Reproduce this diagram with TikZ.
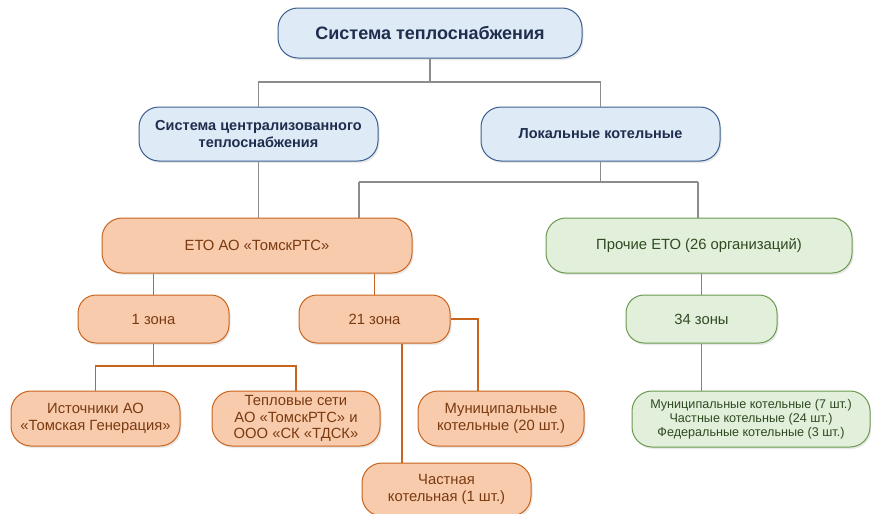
\documentclass[tikz,border=0pt]{standalone}
\usepackage{fontspec}
\setmainfont{Liberation Sans}
\usetikzlibrary{shadows}
\definecolor{bfill}{HTML}{DEEAF6}
\definecolor{bdraw}{HTML}{3A5F8F}
\definecolor{btext}{HTML}{1F2D4E}
\definecolor{gline}{HTML}{8C8C8C}
\definecolor{ofill}{HTML}{F8CBAD}
\definecolor{odraw}{HTML}{C8641E}
\definecolor{otext}{HTML}{7A3A10}
\definecolor{gfill}{HTML}{E2EFDA}
\definecolor{gdraw}{HTML}{6A9A50}
\definecolor{gtext}{HTML}{2F4A22}
\tikzset{
  box/.style={rounded corners=20pt, line width=1pt, align=center, inner sep=2pt,
    drop shadow={shadow xshift=1.5pt, shadow yshift=-2pt, opacity=0.25, fill=black!35}},
  bluebox/.style={box, fill=bfill, draw=bdraw, text=btext, font=\bfseries\fontsize{14.5}{17}\selectfont},
  orbox/.style={box, fill=ofill, draw=odraw, text=otext, font=\fontsize{14.8}{16.5}\selectfont},
  grbox/.style={box, fill=gfill, draw=gdraw, text=gtext, font=\fontsize{14.8}{16.5}\selectfont},
  gcon/.style={draw=gline, line width=1.3pt},
  ocon/.style={draw=odraw, line width=1.5pt},
  grcon/.style={draw=gdraw, line width=1.5pt},
}
\begin{document}
\begin{tikzpicture}[x=1pt,y=-1pt]
\useasboundingbox (0,0) rectangle (871,514);
% nodes
\node[bluebox, minimum width=304pt, minimum height=50pt, font=\bfseries\fontsize{18}{21}\selectfont] (top) at (430,33) {Система теплоснабжения};
\node[bluebox, minimum width=239pt, minimum height=54pt] (cent) at (258.5,134) {Система централизованного\\теплоснабжения};
\node[bluebox, minimum width=239pt, minimum height=54pt] (loc) at (600.5,134) {Локальные котельные};
\node[orbox, minimum width=310pt, minimum height=55pt] (eto) at (257,245.5) {ЕТО АО «ТомскРТС»};
\node[grbox, minimum width=306pt, minimum height=55pt] (proch) at (699,245.5) {Прочие ЕТО (26 организаций)};
\node[orbox, minimum width=151pt, minimum height=48pt, rounded corners=18pt] (z1) at (153.5,319) {1 зона};
\node[orbox, minimum width=151pt, minimum height=48pt, rounded corners=18pt] (z21) at (374.5,319) {21 зона};
\node[grbox, minimum width=151pt, minimum height=48pt, rounded corners=18pt] (z34) at (701.5,319) {34 зоны};
\node[orbox, minimum width=169pt, minimum height=55pt] (ist) at (95.5,418.5) {Источники АО\\«Томская Генерация»};
\node[orbox, minimum width=168pt, minimum height=55pt] (teplo) at (296,418.5) {Тепловые сети\\АО «ТомскРТС» и\\ООО «СК «ТДСК»};
\node[orbox, minimum width=166pt, minimum height=55pt] (mun) at (501,418.5) {Муниципальные\\котельные (20 шт.)};
\node[orbox, minimum width=169pt, minimum height=53pt] (chast) at (446.5,489.5) {Частная\\котельная (1 шт.)};
\node[grbox, minimum width=238pt, minimum height=56pt, font=\fontsize{12.6}{14}\selectfont] (bot) at (751,419) {Муниципальные котельные (7 шт.)\\Частные котельные (24 шт.)\\Федеральные котельные (3 шт.)};
% junctions
\coordinate (j1) at (430,82);
\coordinate (j2) at (600.5,182);
\coordinate (j2l) at (359,182);
\coordinate (j2r) at (698,182);
\coordinate (e1) at (153.5,0);
\coordinate (e2) at (374.5,0);
\coordinate (j3) at (153.5,366);
\coordinate (m1) at (478,0);
\coordinate (c21) at (402,0);
% connectors
\draw[gcon] (top.south) -- (j1) -| (cent.north);
\draw[gcon] (j1) -| (loc.north);
\draw[gcon] (loc.south) -- (j2);
\draw[gcon] (j2l) -- (j2r);
\draw[gcon] (j2l) -- (eto.north -| j2l);
\draw[gcon] (j2r) -- (proch.north -| j2r);
\draw[gcon] (cent.south) -- (eto.north -| cent.south);
\draw[ocon] (eto.south -| e1) -- (z1.north);
\draw[ocon] (eto.south -| e2) -- (z21.north);
\draw[ocon] (z1.south) -- (j3) -| (ist.north);
\draw[ocon] (j3) -| (teplo.north);
\draw[ocon] (z21.east) -| (mun.north -| m1);
\draw[ocon] (z21.south -| c21) -- (chast.north -| c21);
\draw[grcon] (proch.south -| z34.north) -- (z34.north);
\draw[grcon] (z34.south) -- (bot.north -| z34.south);
\end{tikzpicture}
\end{document}
